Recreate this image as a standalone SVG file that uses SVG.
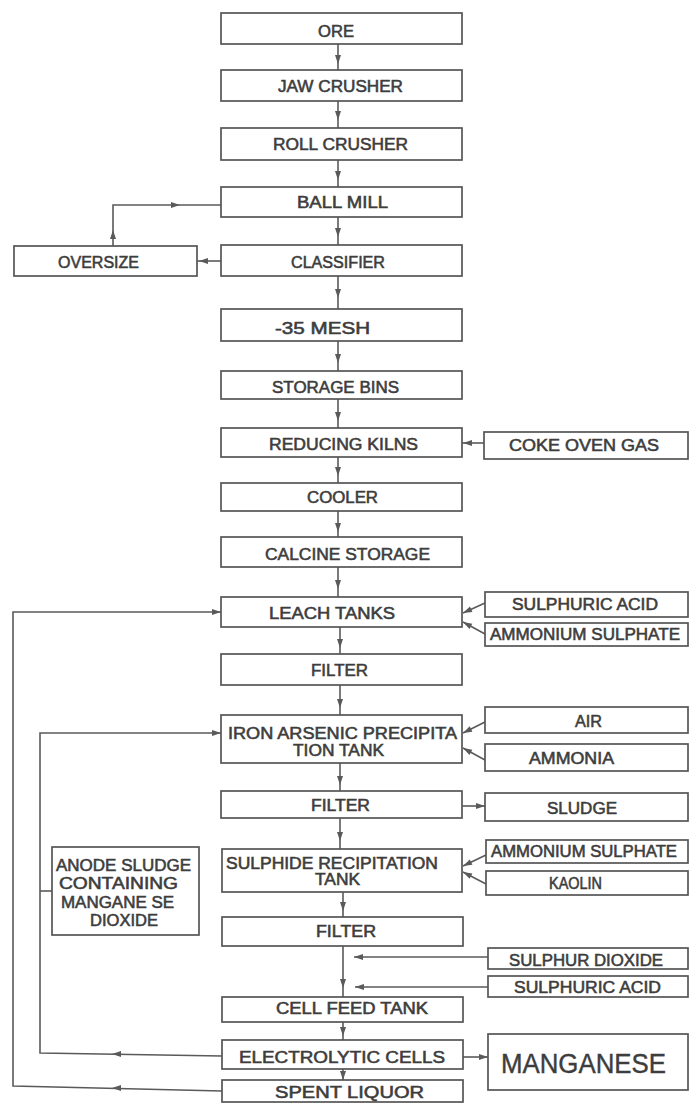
<svg xmlns="http://www.w3.org/2000/svg" width="689" height="1103" viewBox="0 0 689 1103">
<style>
.b{fill:#fff;stroke:#555;stroke-width:1.7}
.t{font-family:"Liberation Sans",Arial,sans-serif;font-size:16px;fill:#3d3d3d;stroke:#3d3d3d;stroke-width:0.55}
.big{font-family:"Liberation Sans",Arial,sans-serif;font-size:27px;fill:#3d3d3d;stroke:#3d3d3d;stroke-width:0.4}
.c{fill:none;stroke:#5a5a5a;stroke-width:1.6}
.ah{fill:#5a5a5a}
</style>
<defs>
<path id="ah" class="ah" d="M0,0 L-9,-3 L-9,3 Z"/>
</defs>
<rect width="689" height="1103" fill="#fff"/>

<g id="connectors">
<path class="c" d="M338,44V70M338,101V128M338,160V187M338,217V245M338,276V309M338,341V371M338,399V428M338,457V483M338,511V537M338,567V597M340,627V654M340,685V715M340,763V791M340,818V849M343,892V917M343,946V997M343,1022V1040M343,1069V1080"/>
<use href="#ah" transform="translate(338,64) rotate(90)"/>
<use href="#ah" transform="translate(338,120) rotate(90)"/>
<use href="#ah" transform="translate(338,180) rotate(90)"/>
<use href="#ah" transform="translate(338,237) rotate(90)"/>
<use href="#ah" transform="translate(338,298) rotate(90)"/>
<use href="#ah" transform="translate(338,363) rotate(90)"/>
<use href="#ah" transform="translate(338,421) rotate(90)"/>
<use href="#ah" transform="translate(338,476) rotate(90)"/>
<use href="#ah" transform="translate(338,532) rotate(90)"/>
<use href="#ah" transform="translate(338,589) rotate(90)"/>
<use href="#ah" transform="translate(340,648) rotate(90)"/>
<use href="#ah" transform="translate(340,708) rotate(90)"/>
<use href="#ah" transform="translate(340,785) rotate(90)"/>
<use href="#ah" transform="translate(340,841) rotate(90)"/>
<use href="#ah" transform="translate(343,911) rotate(90)"/>
<use href="#ah" transform="translate(343,988) rotate(90)"/>
<use href="#ah" transform="translate(343,1036) rotate(90)"/>
<use href="#ah" transform="translate(343,1080) rotate(90)"/>

<path class="c" d="M221,261H197"/>
<use href="#ah" transform="translate(199,261) rotate(180)"/>
<path class="c" d="M113,246V205H221"/>
<use href="#ah" transform="translate(113,230) rotate(-90)"/>
<use href="#ah" transform="translate(180,205)"/>

<path class="c" d="M484,443H462"/>
<use href="#ah" transform="translate(463,443) rotate(180)"/>

<path class="c" d="M485,603L463,613M485,634L463,622"/>
<use href="#ah" transform="translate(463,613) rotate(155.6)"/>
<use href="#ah" transform="translate(463,622) rotate(208.6)"/>

<path class="c" d="M485,722L463,733M485,760L463,748"/>
<use href="#ah" transform="translate(463,733) rotate(153.4)"/>
<use href="#ah" transform="translate(463,748) rotate(208.6)"/>

<path class="c" d="M462,806H485"/>
<use href="#ah" transform="translate(485,806)"/>

<path class="c" d="M486,855L463,866M486,884L463,872"/>
<use href="#ah" transform="translate(463,866) rotate(154.4)"/>
<use href="#ah" transform="translate(463,872) rotate(207.6)"/>

<path class="c" d="M488,957H354M488,987H355"/>
<use href="#ah" transform="translate(354,957) rotate(180)"/>
<use href="#ah" transform="translate(355,987) rotate(180)"/>

<path class="c" d="M463,1057H488"/>
<use href="#ah" transform="translate(488,1057)"/>

<path class="c" d="M222,1056L40,1053V733H221"/>
<use href="#ah" transform="translate(112,1054) rotate(180)"/>
<use href="#ah" transform="translate(221,733)"/>
<path class="c" d="M40,891H52"/>

<path class="c" d="M222,1091L13,1086V612H221"/>
<use href="#ah" transform="translate(112,1088) rotate(180)"/>
<use href="#ah" transform="translate(221,612)"/>
</g>

<g id="ore"><rect class="b" x="221" y="13" width="241" height="31"/><text class="t" x="318" y="37" textLength="36" lengthAdjust="spacingAndGlyphs">ORE</text></g>
<g id="jaw-crusher"><rect class="b" x="221" y="70" width="241" height="31"/><text class="t" x="278" y="92" textLength="125" lengthAdjust="spacingAndGlyphs">JAW  CRUSHER</text></g>
<g id="roll-crusher"><rect class="b" x="221" y="128" width="241" height="32"/><text class="t" x="273" y="150" textLength="135" lengthAdjust="spacingAndGlyphs">ROLL CRUSHER</text></g>
<g id="ball-mill"><rect class="b" x="221" y="187" width="241" height="30"/><text class="t" x="297" y="208" textLength="91" lengthAdjust="spacingAndGlyphs">BALL MILL</text></g>
<g id="classifier"><rect class="b" x="221" y="245" width="241" height="31"/><text class="t" x="291" y="268" textLength="94" lengthAdjust="spacingAndGlyphs">CLASSIFIER</text></g>
<g id="oversize"><rect class="b" x="14" y="246" width="183" height="30"/><text class="t" x="58" y="268" textLength="81" lengthAdjust="spacingAndGlyphs">OVERSIZE</text></g>
<g id="mesh"><rect class="b" x="221" y="309" width="241" height="32"/><text class="t" x="275" y="334" textLength="95" lengthAdjust="spacingAndGlyphs">-35  MESH</text></g>
<g id="storage-bins"><rect class="b" x="221" y="371" width="241" height="28"/><text class="t" x="272" y="393" textLength="127" lengthAdjust="spacingAndGlyphs">STORAGE  BINS</text></g>
<g id="reducing-kilns"><rect class="b" x="221" y="428" width="241" height="29"/><text class="t" x="269" y="450" textLength="149" lengthAdjust="spacingAndGlyphs">REDUCING KILNS</text></g>
<g id="coke-oven-gas"><rect class="b" x="484" y="432" width="204" height="27"/><text class="t" x="509" y="451" textLength="150" lengthAdjust="spacingAndGlyphs">COKE OVEN GAS</text></g>
<g id="cooler"><rect class="b" x="221" y="483" width="241" height="28"/><text class="t" x="307" y="503" textLength="71" lengthAdjust="spacingAndGlyphs">COOLER</text></g>
<g id="calcine-storage"><rect class="b" x="221" y="537" width="241" height="30"/><text class="t" x="265" y="560" textLength="165" lengthAdjust="spacingAndGlyphs">CALCINE STORAGE</text></g>
<g id="leach-tanks"><rect class="b" x="221" y="597" width="241" height="30"/><text class="t" x="269" y="619" textLength="126" lengthAdjust="spacingAndGlyphs">LEACH  TANKS</text></g>
<g id="sulphuric-acid-1"><rect class="b" x="485" y="592" width="203" height="25"/><text class="t" x="512" y="610" textLength="146" lengthAdjust="spacingAndGlyphs">SULPHURIC ACID</text></g>
<g id="ammonium-sulphate-1"><rect class="b" x="485" y="623" width="203" height="23"/><text class="t" x="490" y="640" textLength="190" lengthAdjust="spacingAndGlyphs">AMMONIUM SULPHATE</text></g>
<g id="filter-1"><rect class="b" x="221" y="654" width="241" height="31"/><text class="t" x="311" y="676" textLength="57" lengthAdjust="spacingAndGlyphs">FILTER</text></g>
<g id="iron-arsenic-tank"><rect class="b" x="221" y="715" width="241" height="48"/><text class="t" x="228" y="739" textLength="229" lengthAdjust="spacingAndGlyphs">IRON  ARSENIC  PRECIPITA</text><text class="t" x="293" y="756" textLength="91" lengthAdjust="spacingAndGlyphs">TION TANK</text></g>
<g id="air"><rect class="b" x="485" y="707" width="203" height="26"/><text class="t" x="575" y="727" textLength="27" lengthAdjust="spacingAndGlyphs">AIR</text></g>
<g id="ammonia"><rect class="b" x="485" y="744" width="203" height="27"/><text class="t" x="529" y="764" textLength="85" lengthAdjust="spacingAndGlyphs">AMMONIA</text></g>
<g id="filter-2"><rect class="b" x="221" y="791" width="241" height="27"/><text class="t" x="311" y="811" textLength="59" lengthAdjust="spacingAndGlyphs">FILTER</text></g>
<g id="sludge"><rect class="b" x="485" y="793" width="203" height="28"/><text class="t" x="547" y="814" textLength="70" lengthAdjust="spacingAndGlyphs">SLUDGE</text></g>
<g id="sulphide-tank"><rect class="b" x="222" y="849" width="240" height="43"/><text class="t" x="226" y="869" textLength="212" lengthAdjust="spacingAndGlyphs">SULPHIDE RECIPITATION</text><text class="t" x="315" y="885" textLength="45" lengthAdjust="spacingAndGlyphs">TANK</text></g>
<g id="ammonium-sulphate-2"><rect class="b" x="486" y="840" width="202" height="23"/><text class="t" x="491" y="857" textLength="186" lengthAdjust="spacingAndGlyphs">AMMONIUM SULPHATE</text></g>
<g id="kaolin"><rect class="b" x="486" y="871" width="202" height="24"/><text class="t" x="549" y="889" textLength="53" lengthAdjust="spacingAndGlyphs">KAOLIN</text></g>
<g id="anode-sludge"><rect class="b" x="52" y="847" width="147" height="88"/><text class="t" x="56" y="871" textLength="135" lengthAdjust="spacingAndGlyphs">ANODE SLUDGE</text><text class="t" x="59" y="889" textLength="119" lengthAdjust="spacingAndGlyphs">CONTAINING</text><text class="t" x="61" y="908" textLength="113" lengthAdjust="spacingAndGlyphs">MANGANE SE</text><text class="t" x="90" y="926" textLength="68" lengthAdjust="spacingAndGlyphs">DIOXIDE</text></g>
<g id="filter-3"><rect class="b" x="222" y="917" width="241" height="29"/><text class="t" x="316" y="937" textLength="60" lengthAdjust="spacingAndGlyphs">FILTER</text></g>
<g id="sulphur-dioxide"><rect class="b" x="488" y="948" width="200" height="21"/><text class="t" x="509" y="966" textLength="154" lengthAdjust="spacingAndGlyphs">SULPHUR DIOXIDE</text></g>
<g id="sulphuric-acid-2"><rect class="b" x="488" y="976" width="200" height="21"/><text class="t" x="514" y="993" textLength="147" lengthAdjust="spacingAndGlyphs">SULPHURIC ACID</text></g>
<g id="cell-feed-tank"><rect class="b" x="222" y="997" width="241" height="25"/><text class="t" x="276" y="1014" textLength="152" lengthAdjust="spacingAndGlyphs">CELL FEED TANK</text></g>
<g id="electrolytic-cells"><rect class="b" x="222" y="1040" width="241" height="29"/><text class="t" x="239" y="1063" textLength="206" lengthAdjust="spacingAndGlyphs">ELECTROLYTIC CELLS</text></g>
<g id="manganese"><rect class="b" x="488" y="1034" width="200" height="56"/><text class="big" x="501" y="1073" textLength="165" lengthAdjust="spacingAndGlyphs">MANGANESE</text></g>
<g id="spent-liquor"><rect class="b" x="222" y="1080" width="241" height="22"/><text class="t" x="275" y="1098" textLength="149" lengthAdjust="spacingAndGlyphs">SPENT  LIQUOR</text></g>
</svg>
